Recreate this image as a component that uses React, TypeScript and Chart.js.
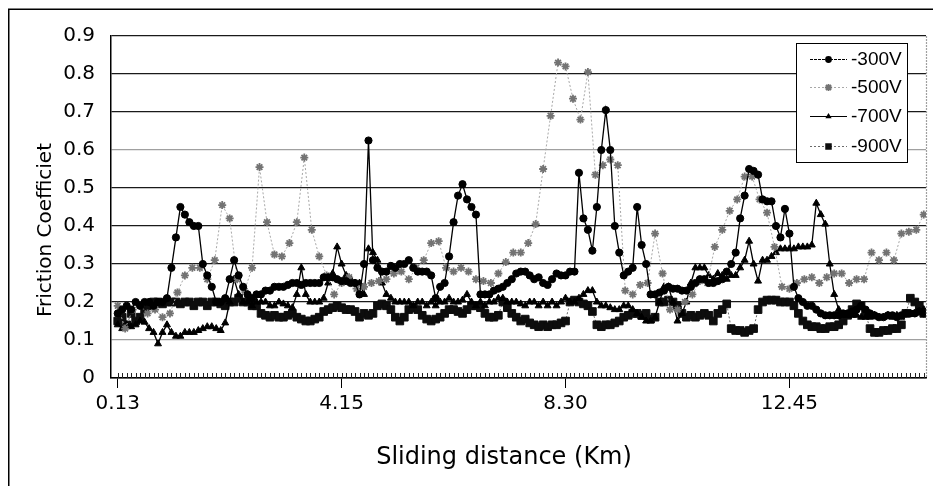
import React, { useEffect, useRef } from "react";
import { Chart, registerables } from "chart.js";

Chart.register(...registerables);

// ---------------- data ----------------
const SERIES_NAMES = ["-300V", "-500V", "-700V", "-900V"];
const TICK_AT = [0, 50, 100, 150]; // sample index of each labelled tick
const TICK_LABELS = ["0.13", "4.15", "8.30", "12.45"];
const Y_TICKS = [0, 0.1, 0.2, 0.3, 0.4, 0.5, 0.6, 0.7, 0.8, 0.9];
const SAMPLE_COUNT = 181;
const STEP_500 = 5 / 3; // -500V was sampled less often

const V300 = [
  0.17, 0.18, 0.19, 0.18, 0.2, 0.19, 0.2, 0.2, 0.19, 0.2,
  0.2, 0.21, 0.29, 0.37, 0.45, 0.43, 0.41, 0.4, 0.4, 0.3,
  0.27, 0.24, 0.2, 0.2, 0.21, 0.26, 0.31, 0.27, 0.24, 0.22,
  0.21, 0.22, 0.22, 0.23, 0.23, 0.24, 0.24, 0.24, 0.245, 0.25,
  0.25, 0.245, 0.25, 0.25, 0.25, 0.25, 0.265, 0.265, 0.265, 0.26,
  0.255, 0.255, 0.25, 0.25, 0.22, 0.3, 0.625, 0.31, 0.29, 0.28,
  0.28, 0.295, 0.29, 0.3, 0.3, 0.31, 0.29, 0.28, 0.28, 0.28,
  0.27, 0.21, 0.24, 0.25, 0.32, 0.41, 0.48, 0.51, 0.47, 0.45,
  0.43, 0.22, 0.22, 0.22, 0.23, 0.235, 0.24, 0.25, 0.26, 0.275,
  0.28, 0.28, 0.27, 0.26, 0.265, 0.25, 0.245, 0.26, 0.275, 0.27,
  0.27, 0.28, 0.28, 0.54, 0.42, 0.39, 0.335, 0.45, 0.6, 0.705,
  0.6, 0.4, 0.33, 0.27, 0.28, 0.29, 0.45, 0.35, 0.3, 0.22,
  0.22, 0.225, 0.23, 0.24, 0.235, 0.235, 0.23, 0.23, 0.24, 0.25,
  0.26, 0.26, 0.25, 0.25, 0.255, 0.26, 0.28, 0.3, 0.33, 0.42,
  0.48, 0.55, 0.545, 0.535, 0.47, 0.465, 0.465, 0.4, 0.37, 0.445,
  0.38, 0.24, 0.21, 0.2, 0.19, 0.19, 0.18, 0.17, 0.165, 0.165,
  0.165, 0.165, 0.17, 0.17, 0.175, 0.18, 0.19, 0.18, 0.17, 0.165,
  0.16, 0.16, 0.165, 0.165, 0.16, 0.165, 0.17, 0.17, 0.17, 0.175,
  0.17,
];

const V500 = [
  0.19, 0.13, 0.18, 0.19, 0.17, 0.18, 0.16, 0.17, 0.225, 0.27,
  0.29, 0.29, 0.26, 0.31, 0.455, 0.42, 0.26, 0.23, 0.29, 0.555,
  0.41, 0.325, 0.32, 0.355, 0.41, 0.58, 0.39, 0.32, 0.27, 0.22,
  0.25, 0.265, 0.235, 0.24, 0.25, 0.255, 0.26, 0.275, 0.28, 0.26,
  0.29, 0.31, 0.355, 0.36, 0.29, 0.28, 0.29, 0.28, 0.26, 0.255,
  0.25, 0.275, 0.305, 0.33, 0.33, 0.355, 0.405, 0.55, 0.69, 0.83,
  0.82, 0.735, 0.68, 0.805, 0.535, 0.56, 0.575, 0.56, 0.23, 0.22,
  0.245, 0.25, 0.38, 0.275, 0.18, 0.18, 0.2, 0.22, 0.255, 0.25,
  0.345, 0.39, 0.44, 0.47, 0.53, 0.53, 0.47, 0.435, 0.345, 0.24,
  0.235, 0.25, 0.26, 0.265, 0.25, 0.265, 0.275, 0.275, 0.25, 0.26,
  0.26, 0.33, 0.31, 0.33, 0.31, 0.38, 0.385, 0.39, 0.43,
];

const V700 = [
  0.14, 0.13, 0.14, 0.135, 0.14, 0.15, 0.147, 0.13, 0.12, 0.09,
  0.12, 0.14, 0.12, 0.11, 0.11, 0.12, 0.12, 0.12, 0.125, 0.13,
  0.135, 0.135, 0.13, 0.125, 0.145, 0.2, 0.26, 0.22, 0.2, 0.2,
  0.19, 0.2, 0.2, 0.2, 0.19, 0.19, 0.2, 0.195, 0.19, 0.185,
  0.22, 0.29, 0.22, 0.2, 0.2, 0.2, 0.21, 0.25, 0.275, 0.345,
  0.3, 0.27, 0.26, 0.25, 0.25, 0.22, 0.34, 0.33, 0.31, 0.25,
  0.22, 0.21, 0.2, 0.2, 0.2, 0.2, 0.19, 0.2, 0.2, 0.19,
  0.2, 0.19, 0.2, 0.2, 0.21, 0.2, 0.2, 0.205, 0.22, 0.2,
  0.19, 0.2, 0.19, 0.2, 0.2, 0.21, 0.21, 0.2, 0.2, 0.2,
  0.195, 0.19, 0.2, 0.2, 0.19, 0.2, 0.19, 0.2, 0.19, 0.2,
  0.21, 0.2, 0.2, 0.21, 0.22, 0.23, 0.23, 0.2, 0.19, 0.19,
  0.185, 0.18, 0.18, 0.19, 0.19, 0.18, 0.17, 0.16, 0.15, 0.15,
  0.16, 0.2, 0.24, 0.24, 0.2, 0.15, 0.17, 0.2, 0.25, 0.29,
  0.29, 0.29, 0.27, 0.26, 0.275, 0.27, 0.26, 0.27, 0.27, 0.29,
  0.31, 0.36, 0.3, 0.255, 0.31, 0.31, 0.32, 0.33, 0.34, 0.34,
  0.34, 0.34, 0.345, 0.345, 0.345, 0.35, 0.46, 0.43, 0.405, 0.3,
  0.22, 0.18, 0.165, 0.165, 0.165, 0.165, 0.16, 0.16, 0.16, 0.165,
  0.16, 0.16, 0.165, 0.16, 0.165, 0.16, 0.17, 0.17, 0.17, 0.175,
  0.18,
];

const V900 = [
  0.15, 0.16, 0.14, 0.17, 0.15, 0.16, 0.18, 0.19, 0.2, 0.2,
  0.195, 0.2, 0.2, 0.2, 0.195, 0.2, 0.2, 0.19, 0.2, 0.2,
  0.19, 0.2, 0.2, 0.195, 0.19, 0.2, 0.2, 0.21, 0.2, 0.2,
  0.19, 0.19, 0.17, 0.165, 0.16, 0.165, 0.16, 0.16, 0.165, 0.17,
  0.16, 0.155, 0.15, 0.15, 0.155, 0.16, 0.175, 0.18, 0.185, 0.19,
  0.185, 0.18, 0.18, 0.175, 0.16, 0.17, 0.165, 0.17, 0.19, 0.195,
  0.19, 0.18, 0.16, 0.15, 0.16, 0.18, 0.185, 0.18, 0.165, 0.155,
  0.15, 0.155, 0.16, 0.17, 0.18, 0.18, 0.175, 0.17, 0.18, 0.19,
  0.19, 0.185, 0.17, 0.16, 0.16, 0.165, 0.2, 0.185, 0.17, 0.16,
  0.15, 0.155, 0.145, 0.14, 0.135, 0.14, 0.135, 0.14, 0.14, 0.145,
  0.15, 0.2, 0.205, 0.2, 0.195, 0.19, 0.175, 0.14, 0.135, 0.14,
  0.14, 0.145, 0.15, 0.16, 0.165, 0.17, 0.17, 0.165, 0.17, 0.155,
  0.16, 0.2, 0.2, 0.205, 0.2, 0.19, 0.17, 0.16, 0.165, 0.16,
  0.165, 0.17, 0.165, 0.15, 0.17, 0.18, 0.195, 0.13, 0.125, 0.125,
  0.12, 0.125, 0.13, 0.18, 0.2, 0.205, 0.205, 0.205, 0.2, 0.2,
  0.2, 0.19, 0.17, 0.15, 0.14, 0.135, 0.135, 0.13, 0.13, 0.135,
  0.135, 0.14, 0.15, 0.165, 0.18, 0.195, 0.19, 0.17, 0.13, 0.12,
  0.12, 0.125, 0.125, 0.13, 0.13, 0.14, 0.17, 0.21, 0.2, 0.19,
  0.17,
];

// ---------------- layout / style ----------------
const W = 933;
const H = 478;
const FONT = '"DejaVu Sans", sans-serif';

type Style = {
  point: string;
  radius: number;
  legendRadius: number;
  fill: string;
  stroke: string;
  pointBorderWidth: number;
  line: string;
  lineWidth: number;
  dash: number[];
};

const STYLES: Style[] = [
  { point: "circle", radius: 3.6, legendRadius: 3.4, fill: "#000", stroke: "#000", pointBorderWidth: 1, line: "#000", lineWidth: 1.3, dash: [] },
  { point: "star", radius: 4, legendRadius: 3.6, fill: "#8a8a8a", stroke: "#737373", pointBorderWidth: 1.8, line: "#a8a8a8", lineWidth: 1, dash: [2, 2] },
  { point: "triangle", radius: 4, legendRadius: 3.6, fill: "#000", stroke: "#000", pointBorderWidth: 1, line: "#000", lineWidth: 1.3, dash: [] },
  { point: "rect", radius: 5.4, legendRadius: 4.6, fill: "#0d0d0d", stroke: "#0d0d0d", pointBorderWidth: 1, line: "#6a6a6a", lineWidth: 1, dash: [2, 2] },
];

function drawMarker(ctx: CanvasRenderingContext2D, s: Style, x: number, y: number) {
  const r = s.legendRadius;
  ctx.save();
  ctx.fillStyle = s.fill;
  ctx.strokeStyle = s.stroke;
  ctx.lineWidth = s.pointBorderWidth;
  ctx.setLineDash([]);
  ctx.beginPath();
  if (s.point === "circle") {
    ctx.arc(x, y, r, 0, Math.PI * 2);
    ctx.fill();
  } else if (s.point === "triangle") {
    const h = r * 1.5;
    ctx.moveTo(x, y - r);
    ctx.lineTo(x + h * 0.58, y + r * 0.5);
    ctx.lineTo(x - h * 0.58, y + r * 0.5);
    ctx.closePath();
    ctx.fill();
  } else if (s.point === "rect") {
    const a = r * Math.SQRT1_2;
    ctx.rect(x - a, y - a, 2 * a, 2 * a);
    ctx.fill();
  } else {
    const d = r * Math.SQRT1_2;
    ctx.moveTo(x - r, y); ctx.lineTo(x + r, y);
    ctx.moveTo(x, y - r); ctx.lineTo(x, y + r);
    ctx.moveTo(x - d, y - d); ctx.lineTo(x + d, y + d);
    ctx.moveTo(x - d, y + d); ctx.lineTo(x + d, y - d);
    ctx.stroke();
  }
  ctx.restore();
}

const decorPlugin = {
  id: "decor",
  beforeDraw(chart: any) {
    const ctx: CanvasRenderingContext2D = chart.ctx;
    ctx.save();
    ctx.fillStyle = "#fff";
    ctx.fillRect(0, 0, W, H);
    ctx.strokeStyle = "#000";
    ctx.lineWidth = 1.5;
    ctx.beginPath();
    ctx.moveTo(0.75, H);
    ctx.lineTo(0.75, 1.25);
    ctx.lineTo(W, 1.25);
    ctx.stroke();
    ctx.restore();
  },
  afterDraw(chart: any) {
    const ctx: CanvasRenderingContext2D = chart.ctx;
    const area = chart.chartArea;
    const xs = chart.scales.x;
    ctx.save();
    // right edge of plot area
    ctx.strokeStyle = "#a0a0a0";
    ctx.lineWidth = 1.2;
    ctx.setLineDash([2, 1]);
    ctx.beginPath();
    ctx.moveTo(area.right + 0.5, area.top);
    ctx.lineTo(area.right + 0.5, area.bottom);
    ctx.stroke();
    ctx.setLineDash([]);
    // minor ticks at every sample, inside the plot
    ctx.strokeStyle = "#222";
    ctx.lineWidth = 1;
    ctx.beginPath();
    for (let i = 0; i < SAMPLE_COUNT; i++) {
      const px = Math.round(xs.getPixelForValue(i)) + 0.5;
      ctx.moveTo(px, area.bottom - 5);
      ctx.lineTo(px, area.bottom);
    }
    ctx.stroke();
    // axis titles
    ctx.fillStyle = "#000";
    ctx.textAlign = "center";
    ctx.textBaseline = "middle";
    ctx.font = `24px ${FONT}`;
    ctx.fillText("Sliding distance (Km)", 496, 450);
    ctx.save();
    ctx.translate(38, 222);
    ctx.rotate(-Math.PI / 2);
    ctx.font = `20px ${FONT}`;
    ctx.fillText("Friction Coefficiet", 0, 0);
    ctx.restore();
    // legend
    const bx = 788.5, by = 35.5, bw = 111, bh = 119;
    ctx.fillStyle = "#fff";
    ctx.fillRect(bx, by, bw, bh);
    ctx.strokeStyle = "#000";
    ctx.lineWidth = 1;
    ctx.strokeRect(bx, by, bw, bh);
    const rows = [51, 79, 108, 138];
    SERIES_NAMES.forEach((name, k) => {
      const s = STYLES[k];
      const y = rows[k];
      ctx.strokeStyle = s.line;
      ctx.lineWidth = 1;
      ctx.setLineDash(k === 0 ? [3, 1] : s.dash);
      ctx.beginPath();
      ctx.moveTo(802, y + 0.5);
      ctx.lineTo(839, y + 0.5);
      ctx.stroke();
      ctx.setLineDash([]);
      drawMarker(ctx, s, 820.5, y + 0.5);
      ctx.fillStyle = "#000";
      ctx.textAlign = "left";
      ctx.textBaseline = "middle";
      ctx.font = '19px "Liberation Sans", Arial, sans-serif';
      ctx.fillText(name, 843, y + 1);
    });
    ctx.restore();
  },
};

function toPoints(values: number[], step: number) {
  return values.map((y, i) => ({ x: i * step, y }));
}

export default function App() {
  const ref = useRef<HTMLCanvasElement>(null);

  useEffect(() => {
    const canvas = ref.current;
    if (!canvas) return;
    const all = [V300, V500, V700, V900];
    const steps = [1, STEP_500, 1, 1];
    const datasets = all.map((vals, k) => {
      const s = STYLES[k];
      return {
        label: SERIES_NAMES[k],
        data: toPoints(vals, steps[k]),
        borderColor: s.line,
        borderWidth: s.lineWidth,
        borderDash: s.dash,
        pointStyle: s.point,
        pointRadius: s.radius,
        pointBackgroundColor: s.fill,
        pointBorderColor: s.stroke,
        pointBorderWidth: s.pointBorderWidth,
        tension: 0,
        fill: false,
      };
    });

    const chart = new Chart(canvas, {
      type: "line",
      data: { datasets },
      options: {
        responsive: false,
        animation: false,
        events: [],
        layout: { padding: { left: 0, right: 15, top: 26, bottom: 0 } },
        plugins: { legend: { display: false }, tooltip: { enabled: false } },
        scales: {
          x: {
            type: "linear",
            min: -1.5,
            max: SAMPLE_COUNT - 0.5,
            afterBuildTicks: (scale: any) => {
              scale.ticks = TICK_AT.map((v) => ({ value: v }));
            },
            afterFit: (scale: any) => {
              scale.height = 108;
            },
            ticks: {
              autoSkip: false,
              maxRotation: 0,
              padding: 4,
              color: "#000",
              font: { family: FONT, size: 20 },
              callback: (v: any) => {
                const k = TICK_AT.indexOf(Number(v));
                return k >= 0 ? TICK_LABELS[k] : "";
              },
            },
            grid: {
              drawOnChartArea: false,
              drawTicks: true,
              tickLength: 10,
              tickColor: "#000",
              tickWidth: 1,
            },
            border: { display: true, color: "#000", width: 1.5 },
          },
          y: {
            min: 0,
            max: 0.9,
            afterBuildTicks: (scale: any) => {
              scale.ticks = Y_TICKS.map((v) => ({ value: v }));
            },
            afterFit: (scale: any) => {
              scale.width = 103;
            },
            ticks: {
              padding: 16,
              color: "#000",
              font: { family: FONT, size: 20 },
              callback: (v: any) => (Number(v) === 0 ? "0" : Number(v).toFixed(1)),
            },
            grid: {
              drawTicks: false,
              lineWidth: 1.2,
              color: (c: any) => {
                const v = c.tick ? c.tick.value : 0;
                if (Math.abs(v - 0.6) < 1e-6 || Math.abs(v - 0.1) < 1e-6) return "#a0a0a0";
                return "#1a1a1a";
              },
            },
            border: { display: true, color: "#000", width: 1.5 },
          },
        },
      } as any,
      plugins: [decorPlugin],
    });
    return () => chart.destroy();
  }, []);

  return (
    <div style={{ width: W, height: H, position: "relative" }}>
      <canvas ref={ref} width={W} height={H} style={{ display: "block", width: W, height: H }} />
    </div>
  );
}
